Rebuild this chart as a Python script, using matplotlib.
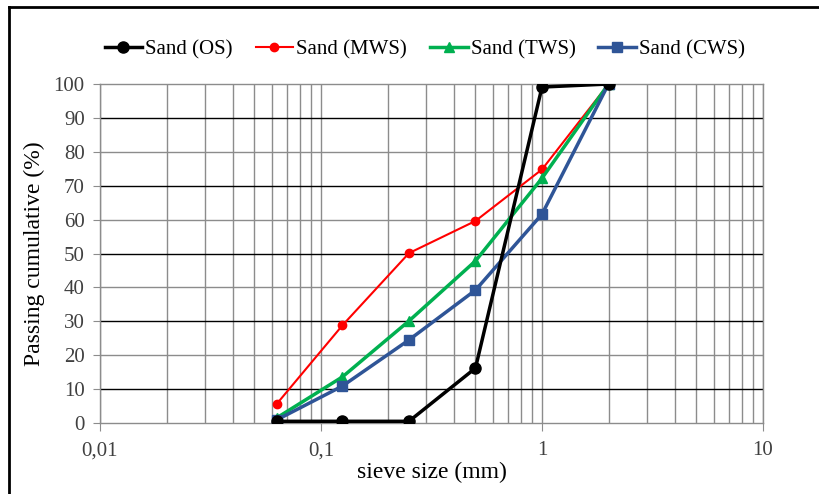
import numpy as np
import matplotlib.pyplot as plt
from matplotlib.lines import Line2D
from matplotlib.ticker import FixedLocator, NullFormatter

sieve = [0.063, 0.125, 0.25, 0.5, 1, 2]
sand_os = [0.5, 0.5, 0.5, 16.2, 99.1, 100]
sand_mws = [5.6, 28.8, 50.1, 59.6, 74.8, 100]
sand_tws = [1.5, 13.6, 30.1, 47.8, 72.2, 100]
sand_cws = [0.9, 10.9, 24.5, 39.2, 61.6, 100]

x_ticks = [0.01, 0.1, 1, 10]
x_tick_labels = ["0,01", "0,1", "1", "10"]

plt.rcParams['font.family'] = ['Liberation Serif', 'DejaVu Serif']

fig = plt.figure(figsize=(8.19, 4.94), dpi=100)
ax = fig.add_axes([100 / 819, 1 - 423 / 494, 663 / 819, 339 / 494])

ax.set_xscale("log")
ax.set_xlim(0.01, 10)
ax.set_ylim(0, 100)

# grid lines (drawn manually so the 20-step and 10-step lines get different colours)
minor_x = [m * 10.0 ** k for k in (-2, -1, 0) for m in range(2, 10)]
for x in minor_x + x_ticks:
    ax.axvline(x, color="#8c8c8c", lw=1, zorder=0)
for y in range(10, 100, 10):
    ax.axhline(y, color="#000000" if y % 20 else "#8c8c8c", lw=1, zorder=0)

ax.plot(sieve, sand_os, color="black", lw=2.5, marker="o", ms=8, label="Sand (OS)", zorder=5)
ax.plot(sieve, sand_mws, color="#ff0000", lw=1.5, marker="o", ms=6, label="Sand (MWS)", zorder=3)
ax.plot(sieve, sand_tws, color="#00b050", lw=2.5, marker="^", ms=7, label="Sand (TWS)", zorder=3)
ax.plot(sieve, sand_cws, color="#2f5597", lw=2.5, marker="s", ms=7, label="Sand (CWS)", zorder=4)

ax.xaxis.set_major_locator(FixedLocator(x_ticks))
ax.set_xticklabels(x_tick_labels)
ax.xaxis.set_minor_locator(FixedLocator(minor_x))
ax.xaxis.set_minor_formatter(NullFormatter())
ax.set_yticks(range(0, 101, 10))
ax.tick_params(axis="x", which="major", direction="out", length=6, color="#8c8c8c", labelsize=15, labelcolor="#404040", pad=7)
ax.tick_params(axis="x", which="minor", length=0)
ax.tick_params(axis="y", direction="out", length=5, color="#8c8c8c", labelsize=15, labelcolor="#404040", pad=6)
for s in ax.spines.values():
    s.set_color("#8c8c8c")
    s.set_linewidth(1)

ax.set_xlabel("sieve size (mm)", fontsize=17, labelpad=1)
ax.set_ylabel("Passing cumulative (%)", fontsize=17, labelpad=6)

ax.legend(loc="lower center", bbox_to_anchor=(0.49, 1.0), ncol=4, frameon=False,
          fontsize=15, handlelength=1.8, handletextpad=0.15, columnspacing=1.1,
          borderaxespad=0.8)

# figure border (left and top edges visible)
fig.add_artist(Line2D([9 / 819, 9 / 819], [0, 1 - 7 / 494], color="black", lw=2, transform=fig.transFigure))
fig.add_artist(Line2D([9 / 819, 1], [1 - 7 / 494, 1 - 7 / 494], color="black", lw=2, transform=fig.transFigure))

fig.savefig("out.png", dpi=100)
